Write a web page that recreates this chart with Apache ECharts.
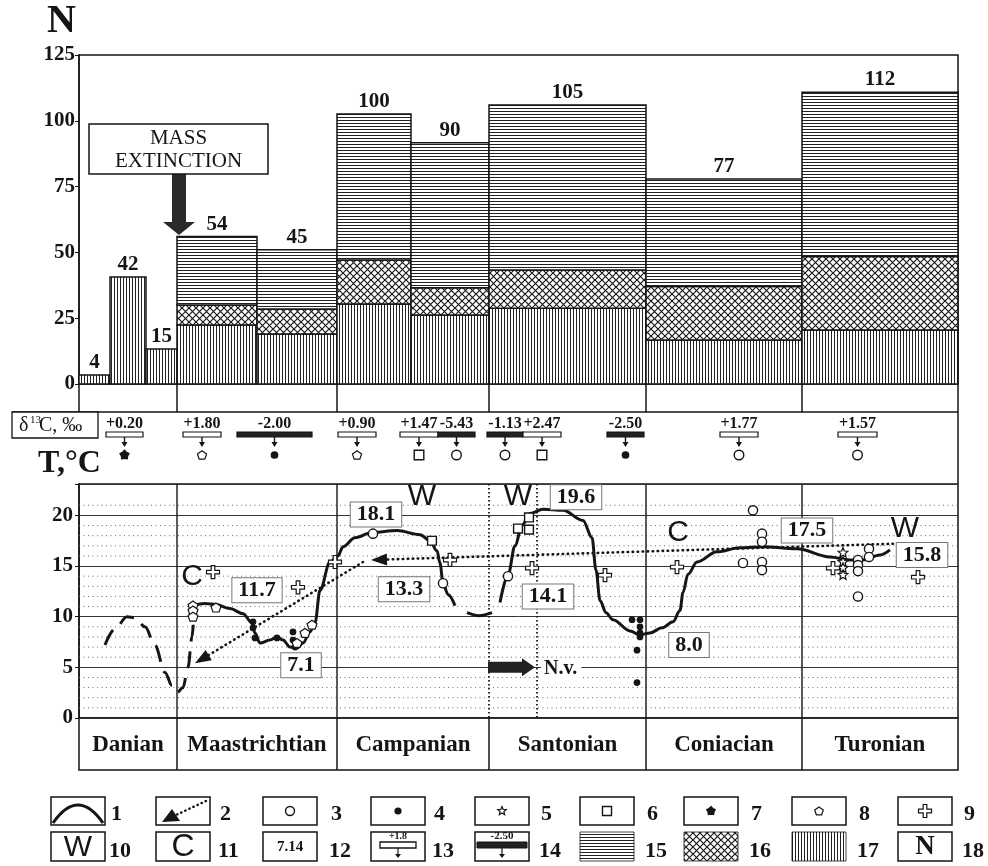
<!DOCTYPE html>
<html><head><meta charset="utf-8">
<script src="https://cdn.jsdelivr.net/npm/echarts@6/dist/echarts.min.js"></script>
<style>html,body{margin:0;padding:0;background:#fff}#c{width:988px;height:866px}</style>
</head><body><div id="c"></div>
<script>
// ================= DATA =================
// relative age scale (0 = top of Danian column, 879 = base of Turonian column)
const stages = ['Danian','Maastrichtian','Campanian','Santonian','Coniacian','Turonian'];
const stageBounds = [0, 98, 258, 410, 567, 723, 879];

// Diversity (N) – variable width stacked bars
const barStart = [0, 31, 67, 98, 178, 258, 332, 410, 567, 723];
const barEnd   = [31, 67, 98, 178, 258, 332, 410, 567, 723, 879];
const barLabel = ['4','42','15','54','45','100','90','105','77','112'];
const nVertical   = [3.4, 40.7, 13.3, 22.4, 19.0, 30.4, 26.2, 28.8, 16.7, 20.5]; // legend 17
const nCrossHatch = [0, 0, 0, 7.6, 9.5, 16.7, 10.4, 14.5, 20.3, 27.9];          // legend 16
const nHorizontal = [0, 0, 0, 26.0, 22.5, 55.5, 55.1, 62.7, 40.9, 62.4];        // legend 15
const extinctionBoxX = [10, 189];
const extinctionBoxN = [79.8, 98.8];
const extinctionTip = [100, 56.6];

// δ13C values
const d13cText  = ['+0.20','+1.80','-2.00','+0.90','+1.47','-5.43','-1.13','+2.47','-2.50','+1.77','+1.57'];
const d13cStart = [27, 104, 158, 259, 321, 359, 408, 444, 528, 641, 759];
const d13cEnd   = [64, 142, 233, 297, 359, 396, 444, 482, 565, 679, 798];
const d13cSymbol = ['flower','pentagon','dot','pentagon','square','circle','circle','square','dot','circle','circle'];

// Temperature curves (T, °C)
const danianX = [26, 36, 48, 56, 66, 76, 86, 93, 98, 104, 109, 113, 115];
const danianT = [7.2, 8.8, 10.0, 9.9, 9.0, 7.2, 4.5, 3.2, 2.5, 3.0, 5.0, 8.0, 10.5];
const mainX = [114,126,137,151,164,173,176,181,191,198,204,211,218,224,231,236,241,251,259,264,276,293,318,341,351,358,361,364,369,376];
const mainT = [11.1,11.3,11.2,10.8,10.3,9.4,8.4,7.4,7.7,8.0,7.7,7.0,6.9,7.4,8.5,9.4,12.6,15.4,16.0,16.9,17.8,18.3,18.5,18.1,17.5,16.5,15.3,13.3,12.2,11.1];
const gapX = [388, 400, 413];
const gapT = [10.4, 10.1, 10.4];
const lateX = [421,429,436,443,451,464,484,504,513,517,521,527,534,551,561,571,583,594,601,604,609,618,638,661,684,718,751,771,784,801,811];
const lateT = [11.4,14.1,17.0,19.0,20.2,20.6,20.5,19.5,17.8,14.6,11.6,10.4,9.7,8.6,8.2,8.4,8.9,9.5,10.6,12.4,14.2,15.4,16.4,16.8,16.9,16.7,15.9,15.6,15.6,16.1,16.6];

// point data by symbol
const pentX = [114,114,114,137,218,226,233];
const pentT = [11.1,10.6,10.0,10.9,7.4,8.4,9.2];
const dotX = [174,174,176,198,214,214,216,553,561,561,561,561,558,558];
const dotT = [9.5,8.9,7.9,7.9,8.5,7.7,7.0,9.7,9.7,9.0,8.4,8.0,6.7,3.5];
const circX = [294,364,429,674,683,683,664,683,683,779,779,779,790,790,779];
const circT = [18.2,13.3,14.0,20.5,18.2,17.4,15.3,15.4,14.6,15.6,15.1,14.5,16.7,15.9,12.0];
const sqX = [353,439,450,450];
const sqT = [17.5,18.7,19.8,18.6];
const starX = [764,764,764,764];
const starT = [16.3,15.4,14.8,14.1];
const crossX = [134,219,256,371,453,526,598,754,839];
const crossT = [14.4,12.9,15.4,15.6,14.8,14.1,14.9,14.8,13.9];

// labels
const boxLabelText = ['11.7','7.1','18.1','13.3','19.6','14.1','8.0','17.5','15.8'];
const boxLabelX = [178,222,297,325,497,469,610,728,843];
const boxLabelT = [12.6,5.2,20.1,12.7,21.8,12.0,7.2,18.5,16.1];
const letterText = ['C','W','W','C','W'];
const letterX = [113,343,439,599,826];
const letterT = [13.9,21.8,21.8,18.3,18.7];

// dotted arrows (legend 2)
const arrowFromX = [814, 284];
const arrowFromT = [17.2, 15.4];
const arrowToX = [292, 116];
const arrowToT = [15.6, 5.4];
// N.v. arrow
const nvFromX = 409, nvToX = 456, nvT = 5;

// grid
const minorT = [1,2,3,4,6,7,8,9,11,12,13,14,16,17,18,19,21];
const vLineX = [98, 258, 410, 458, 567, 723];
const vLineDotted = [false, false, true, true, false, false];

// ================= RENDER =================
const SERIF = '"Liberation Serif", "Times New Roman", serif';
const SANS = '"Liberation Sans", Arial, sans-serif';
const INK = '#151515';

function makePattern(kind){
  const c = document.createElement('canvas');
  const ctx = c.getContext('2d');
  if (kind === 'h') { c.width = 6; c.height = 3; ctx.fillStyle = '#fff'; ctx.fillRect(0,0,6,3); ctx.fillStyle = '#222'; ctx.fillRect(0,0,6,1); }
  else if (kind === 'v') { c.width = 3; c.height = 6; ctx.fillStyle = '#fff'; ctx.fillRect(0,0,3,6); ctx.fillStyle = '#222'; ctx.fillRect(0,0,1,6); }
  else { c.width = 7; c.height = 7; ctx.fillStyle = '#fff'; ctx.fillRect(0,0,7,7); ctx.strokeStyle = '#1a1a1a'; ctx.lineWidth = 1.2;
    ctx.beginPath(); ctx.moveTo(-1,-1); ctx.lineTo(8,8); ctx.moveTo(8,-1); ctx.lineTo(-1,8); ctx.stroke(); }
  return { image: c, repeat: 'repeat' };
}
const PAT_H = makePattern('h'), PAT_V = makePattern('v'), PAT_X = makePattern('x');

function shapePts(kind){
  const pts = [];
  if (kind === 'pentagon') { for (let k=0;k<5;k++){ const a=(-90+72*k)*Math.PI/180; pts.push([Math.cos(a),Math.sin(a)*0.95+0.08]); } }
  else if (kind === 'star' || kind === 'flower') {
    const rin = kind === 'star' ? 0.45 : 0.7;
    for (let k=0;k<10;k++){ const a=(-90+36*k)*Math.PI/180; const r = k%2 ? rin : 1; pts.push([Math.cos(a)*r, Math.sin(a)*r]); }
  } else if (kind === 'cross') {
    const t = 0.28;
    return [[-t,-1],[t,-1],[t,-t],[1,-t],[1,t],[t,t],[t,1],[-t,1],[-t,t],[-1,t],[-1,-t],[-t,-t]];
  }
  return pts;
}
function symEl(kind, cx, cy, s){
  switch(kind){
    case 'circle': return {type:'circle', shape:{cx,cy,r:s}, style:{fill:'#fff',stroke:INK,lineWidth:1.4}};
    case 'dot': return {type:'circle', shape:{cx,cy,r:s*0.8}, style:{fill:INK}};
    case 'square': return {type:'rect', shape:{x:cx-s,y:cy-s,width:2*s,height:2*s}, style:{fill:'#fff',stroke:INK,lineWidth:1.4}};
    default: {
      const pts = shapePts(kind).map(([u,v]) => [cx+u*s, cy+v*s]);
      return {type:'polygon', shape:{points:pts}, style:{fill: kind==='flower' ? INK : '#fff', stroke:INK, lineWidth:1.2}};
    }
  }
}

const zip = (xs, ys) => xs.map((x,i) => [x, ys[i]]);

function pointSeries(xs, ts, kind, s){
  return {
    type:'custom', xAxisIndex:2, yAxisIndex:2, z:6, data: zip(xs, ts),
    renderItem: (params, api) => { const p = api.coord([api.value(0), api.value(1)]); return symEl(kind, p[0], p[1], s); }
  };
}
function curveSeries(xs, ts, dash){
  return {
    type:'line', xAxisIndex:2, yAxisIndex:2, z:4, data: zip(xs, ts), showSymbol:false, symbol:'none',
    smooth:0.35, smoothMonotone:'x',
    lineStyle:{color:INK, width:3, type: dash ? [17,10] : 'solid', cap:'butt'}
  };
}

const option = {
  animation:false,
  backgroundColor:'#fff',
  grid:[
    {left:79, top:55, width:879, height:329, show:true, borderColor:INK, borderWidth:1.5, backgroundColor:'transparent'},
    {left:79, top:384, width:879, height:100, show:false},
    {left:79, top:484, width:879, height:234, show:true, borderColor:INK, borderWidth:1.5, backgroundColor:'transparent'},
    {left:79, top:718, width:879, height:52, show:true, borderColor:INK, borderWidth:1.5, backgroundColor:'transparent'}
  ],
  xAxis:[0,1,2,3].map(i => ({type:'value', gridIndex:i, min:0, max:879, show:false})),
  yAxis:[
    {type:'value', gridIndex:0, min:0, max:125, interval:25,
      axisLine:{show:true, lineStyle:{color:INK, width:1.5}}, axisTick:{show:true, length:4, lineStyle:{color:INK}},
      splitLine:{show:false}, axisLabel:{color:INK, fontFamily:SERIF, fontWeight:'bold', fontSize:21, margin:4}},
    {type:'value', gridIndex:1, min:0, max:1, show:false},
    {type:'value', gridIndex:2, min:0, max:23.1, interval:5,
      axisLine:{show:true, lineStyle:{color:INK, width:1.5}}, axisTick:{show:true, length:4, lineStyle:{color:INK}},
      splitLine:{show:true, lineStyle:{color:'#333', width:1}},
      axisLabel:{color:INK, fontFamily:SERIF, fontWeight:'bold', fontSize:21, margin:6, formatter: v => v > 22 ? '' : String(v)}},
    {type:'value', gridIndex:3, min:0, max:1, show:false}
  ],
  series:[
    // ---- diversity bars ----
    {
      type:'custom', xAxisIndex:0, yAxisIndex:0, z:3,
      data: barStart.map((s,i) => [s, barEnd[i], nVertical[i], nCrossHatch[i], nHorizontal[i]]),
      renderItem: (params, api) => {
        const i = params.dataIndex;
        const x0 = api.value(0), x1 = api.value(1), a = api.value(2), b = api.value(3), c = api.value(4);
        const segs = [[0,a,PAT_V],[a,a+b,PAT_X],[a+b,a+b+c,PAT_H]];
        const children = [];
        segs.forEach(([lo,hi,p]) => {
          if (hi - lo <= 0) return;
          const p0 = api.coord([x0, hi]), p1 = api.coord([x1, lo]);
          children.push({type:'rect', shape:{x:p0[0], y:p0[1], width:p1[0]-p0[0], height:p1[1]-p0[1]},
            style:{fill:p, stroke:INK, lineWidth:1.5}});
        });
        const t = api.coord([(x0+x1)/2, a+b+c]);
        children.push({type:'text', x:t[0], y:t[1]-2, style:{text:barLabel[i], font:'bold 21px '+SERIF, fill:INK, align:'center', verticalAlign:'bottom'}});
        return {type:'group', children};
      }
    },
    // ---- mass extinction annotation ----
    {
      type:'custom', xAxisIndex:0, yAxisIndex:0, z:8, data:[[0]],
      renderItem: (params, api) => {
        const b0 = api.coord([extinctionBoxX[0], extinctionBoxN[1]]), b1 = api.coord([extinctionBoxX[1], extinctionBoxN[0]]);
        const tip = api.coord(extinctionTip);
        const xc = tip[0], yb = b1[1], ty = tip[1];
        return {type:'group', children:[
          {type:'polygon', shape:{points:[[xc-7,yb],[xc+7,yb],[xc+7,ty-13],[xc+16,ty-13],[xc,ty],[xc-16,ty-13],[xc-7,ty-13]]}, style:{fill:'#2a2a2a'}},
          {type:'rect', shape:{x:b0[0], y:b0[1], width:b1[0]-b0[0], height:b1[1]-b0[1]}, style:{fill:'#fff', stroke:INK, lineWidth:1.5}},
          {type:'text', x:(b0[0]+b1[0])/2, y:(b0[1]+b1[1])/2+1, style:{text:'MASS\nEXTINCTION', font:'21px '+SERIF, lineHeight:23, fill:INK, align:'center', verticalAlign:'middle'}}
        ]};
      }
    },
    // ---- δ13C strip ----
    {
      type:'custom', xAxisIndex:1, yAxisIndex:1, z:5, data:[[0,0]],
      renderItem: (params, api) => {
        const cs = params.coordSys;
        const top = cs.y, yBase = top + 28, ch = [];
        stageBounds.forEach((b, i) => {
          const x = api.coord([b, 0])[0];
          ch.push({type:'line', shape:{x1:x, y1:top, x2:x, y2: i === stageBounds.length-1 ? cs.y+cs.height : yBase}, style:{stroke:INK, lineWidth:1.5}});
        });
        ch.push({type:'line', shape:{x1:cs.x-67, y1:yBase, x2:cs.x+cs.width, y2:yBase}, style:{stroke:INK, lineWidth:1.5}});
        ch.push({type:'rect', shape:{x:cs.x-67, y:yBase, width:86, height:26}, style:{fill:'#fff', stroke:INK, lineWidth:1.3}});
        ch.push({type:'text', x:cs.x-60, y:yBase+14, style:{text:'δ', font:'20px '+SERIF, fill:INK, verticalAlign:'middle'}});
        ch.push({type:'text', x:cs.x-49, y:yBase+8, style:{text:'13', font:'11px '+SERIF, fill:INK, verticalAlign:'middle'}});
        ch.push({type:'text', x:cs.x-40, y:yBase+14, style:{text:'C, ‰', font:'20px '+SERIF, fill:INK, verticalAlign:'middle'}});
        d13cText.forEach((txt, i) => {
          const x0 = api.coord([d13cStart[i], 0])[0], x1 = api.coord([d13cEnd[i], 0])[0];
          const xc = (x0 + x1) / 2, neg = txt.charAt(0) === '-';
          ch.push({type:'text', x:xc, y:yBase+20, style:{text:txt, font:'bold 16px '+SERIF, fill:INK, align:'center', verticalAlign:'bottom'}});
          ch.push({type:'rect', shape:{x:x0, y:yBase+20, width:x1-x0, height:5}, style:{fill: neg ? '#222' : '#fff', stroke:INK, lineWidth:1.2}});
          ch.push({type:'line', shape:{x1:xc, y1:yBase+25, x2:xc, y2:yBase+32}, style:{stroke:INK, lineWidth:1.4}});
          ch.push({type:'polygon', shape:{points:[[xc-3,yBase+30],[xc+3,yBase+30],[xc,yBase+35]]}, style:{fill:INK}});
          ch.push(symEl(d13cSymbol[i], xc, yBase+43, 4.8));
        });
        return {type:'group', children:ch};
      }
    },
    // ---- minor dotted gridlines ----
    {
      type:'custom', xAxisIndex:2, yAxisIndex:2, z:1, data: minorT.map(t => [0, t]),
      renderItem: (params, api) => {
        const cs = params.coordSys, y = api.coord([0, api.value(1)])[1];
        return {type:'line', shape:{x1:cs.x, y1:y, x2:cs.x+cs.width, y2:y}, style:{stroke:'#6a6a6a', lineWidth:1, lineDash:[1,3.5]}};
      }
    },
    // ---- vertical stage lines in T panel ----
    {
      type:'custom', xAxisIndex:2, yAxisIndex:2, z:2, data: vLineX.map((x,i) => [x, 0, vLineDotted[i] ? 1 : 0]),
      renderItem: (params, api) => {
        const cs = params.coordSys, x = api.coord([api.value(0), 0])[0], dotted = api.value(2) === 1;
        return {type:'line', shape:{x1:x, y1:cs.y, x2:x, y2:cs.y+cs.height},
          style:{stroke:INK, lineWidth: dotted ? 1.8 : 1.4, lineDash: dotted ? [1.5,2.5] : null}};
      }
    },
    // ---- curves ----
    curveSeries(danianX, danianT, true),
    curveSeries(mainX, mainT, false),
    curveSeries(gapX, gapT, false),
    curveSeries(lateX, lateT, false),
    // ---- dotted arrows ----
    {
      type:'custom', xAxisIndex:2, yAxisIndex:2, z:5, data: arrowFromX.map((x,i) => [x, arrowFromT[i], arrowToX[i], arrowToT[i]]),
      renderItem: (params, api) => {
        const p0 = api.coord([api.value(0), api.value(1)]), p1 = api.coord([api.value(2), api.value(3)]);
        const dx = p1[0]-p0[0], dy = p1[1]-p0[1], L = Math.hypot(dx,dy), ux = dx/L, uy = dy/L;
        const hl = 16, hw = 6, bx = p1[0]-ux*hl, by = p1[1]-uy*hl;
        return {type:'group', children:[
          {type:'line', shape:{x1:p0[0], y1:p0[1], x2:bx, y2:by}, style:{stroke:INK, lineWidth:2.6, lineCap:'round', lineDash:[0.5,4.5]}},
          {type:'polygon', shape:{points:[p1, [bx-uy*hw, by+ux*hw], [bx+uy*hw, by-ux*hw]]}, style:{fill:INK}}
        ]};
      }
    },
    // ---- N.v. arrow ----
    {
      type:'custom', xAxisIndex:2, yAxisIndex:2, z:7, data:[[nvFromX, nvT, nvToX]],
      renderItem: (params, api) => {
        const p0 = api.coord([api.value(0), api.value(1)]), p1 = api.coord([api.value(2), api.value(1)]);
        const y = p0[1], hx = p1[0]-13;
        return {type:'group', children:[
          {type:'polygon', shape:{points:[[p0[0],y-5.5],[hx,y-5.5],[hx,y-9],[p1[0],y],[hx,y+9],[hx,y+5.5],[p0[0],y+5.5]]}, style:{fill:'#222'}},
          {type:'text', x:p1[0]+6, y:y+1, style:{text:'N.v.', font:'bold 20px '+SERIF, fill:INK, verticalAlign:'middle', backgroundColor:'#fff', padding:[0,4,0,3]}}
        ]};
      }
    },
    // ---- points ----
    pointSeries(dotX, dotT, 'dot', 4.2),
    pointSeries(pentX, pentT, 'pentagon', 5.2),
    pointSeries(circX, circT, 'circle', 4.6),
    pointSeries(sqX, sqT, 'square', 4.4),
    pointSeries(starX, starT, 'star', 5.2),
    pointSeries(crossX, crossT, 'cross', 6.5),
    // ---- boxed temperature labels ----
    {
      type:'custom', xAxisIndex:2, yAxisIndex:2, z:9, data: boxLabelX.map((x,i) => [x, boxLabelT[i]]),
      renderItem: (params, api) => {
        const p = api.coord([api.value(0), api.value(1)]);
        return {type:'text', x:p[0], y:p[1], style:{text:boxLabelText[params.dataIndex], font:'bold 22px '+SERIF, fill:INK,
          align:'center', verticalAlign:'middle', backgroundColor:'#fff', borderColor:'#777', borderWidth:1, padding:[2,6,0,6]}};
      }
    },
    // ---- W / C letters ----
    {
      type:'custom', xAxisIndex:2, yAxisIndex:2, z:9, data: letterX.map((x,i) => [x, letterT[i]]),
      renderItem: (params, api) => {
        const p = api.coord([api.value(0), api.value(1)]);
        return {type:'text', x:p[0], y:p[1], style:{text:letterText[params.dataIndex], font:'30px '+SANS, fill:INK, align:'center', verticalAlign:'middle'}};
      }
    },
    // ---- stage names row ----
    {
      type:'custom', xAxisIndex:3, yAxisIndex:3, z:5, data: stages.map((s,i) => [stageBounds[i], stageBounds[i+1]]),
      renderItem: (params, api) => {
        const cs = params.coordSys, x0 = api.coord([api.value(0), 0])[0], x1 = api.coord([api.value(1), 0])[0];
        const ch = [{type:'text', x:(x0+x1)/2, y:cs.y+cs.height/2+1, style:{text:stages[params.dataIndex], font:'bold 23px '+SERIF, fill:INK, align:'center', verticalAlign:'middle'}}];
        if (params.dataIndex > 0) ch.push({type:'line', shape:{x1:x0, y1:cs.y, x2:x0, y2:cs.y+cs.height}, style:{stroke:INK, lineWidth:1.5}});
        return {type:'group', children:ch};
      }
    }
  ],
  graphic: []
};

// ---- titles and legend (static decoration) ----
const G = option.graphic;
G.push({type:'text', left:47, top:2, style:{text:'N', font:'bold 40px '+SERIF, fill:INK}});
G.push({type:'text', left:38, top:448, style:{text:'T,°C', font:'bold 32px '+SERIF, fill:INK}});

const cols = [51,156,263,371,475,580,684,792,898];
const numOff = [6,10,14,9,12,13,13,13,12];
const r1 = 797, r2 = 832, bw = 54, h1 = 28, h2 = 29;
cols.forEach((x, i) => {
  G.push({type:'text', left:x+bw+numOff[i], top:r1+6, style:{text:String(i+1), font:'bold 22px '+SERIF, fill:INK}});
  G.push({type:'text', left:x+bw+numOff[i]-2, top:r2+8, style:{text:String(i+10), font:'bold 22px '+SERIF, fill:INK}});
  const pf = i===5 ? PAT_H : i===6 ? PAT_X : i===7 ? PAT_V : '#fff';
  G.push({type:'rect', shape:{x:x, y:r1, width:bw, height:h1}, style:{fill:'#fff', stroke:INK, lineWidth:1.5}});
  G.push({type:'rect', shape:{x:x, y:r2, width:bw, height:h2}, style:{fill:pf, stroke:INK, lineWidth: i>=5 && i<=7 ? 0.8 : 1.5}});
});
const cy1 = r1 + h1/2, cy2 = r2 + h2/2;
// 1 curve
G.push({type:'bezierCurve', shape:{x1:cols[0]+2, y1:r1+h1-2, cpx1:cols[0]+bw/2, cpy1:r1-10, x2:cols[0]+bw-2, y2:r1+h1-2}, style:{stroke:INK, lineWidth:3, fill:null}});
// 2 dotted arrow
G.push({type:'line', shape:{x1:cols[1]+50, y1:r1+4, x2:cols[1]+20, y2:r1+18}, style:{stroke:INK, lineWidth:2.4, lineCap:'round', lineDash:[0.5,4]}});
G.push({type:'polygon', shape:{points:[[cols[1]+6,r1+25],[cols[1]+16,r1+12],[cols[1]+24,r1+24]]}, style:{fill:INK}});
// symbols 3-9
const legSyms = ['circle','dot','star','square','flower','pentagon','cross'];
legSyms.forEach((k, j) => {
  G.push(symEl(k, cols[j+2]+bw/2, cy1, k==='cross' ? 6.5 : 4.5));
});
// 10, 11, 12
G.push({type:'text', x:cols[0]+bw/2, y:cy2+1, style:{text:'W', font:'30px '+SANS, fill:INK, align:'center', verticalAlign:'middle'}});
G.push({type:'text', x:cols[1]+bw/2, y:cy2+1, style:{text:'C', font:'32px '+SANS, fill:INK, align:'center', verticalAlign:'middle'}});
G.push({type:'text', x:cols[2]+bw/2, y:cy2+1, style:{text:'7.14', font:'bold 15px '+SERIF, fill:INK, align:'center', verticalAlign:'middle'}});
// 13
G.push({type:'text', x:cols[3]+bw/2, y:r2+9, style:{text:'+1.8', font:'bold 10px '+SERIF, fill:INK, align:'center', verticalAlign:'bottom'}});
G.push({type:'rect', shape:{x:cols[3]+9, y:r2+10, width:bw-18, height:6}, style:{fill:'#fff', stroke:INK, lineWidth:1.3}});
G.push({type:'line', shape:{x1:cols[3]+bw/2, y1:r2+16, x2:cols[3]+bw/2, y2:r2+24}, style:{stroke:INK, lineWidth:1.2}});
G.push({type:'polygon', shape:{points:[[cols[3]+bw/2-3,r2+22],[cols[3]+bw/2+3,r2+22],[cols[3]+bw/2,r2+26]]}, style:{fill:INK}});
// 14
G.push({type:'text', x:cols[4]+bw/2, y:r2+10, style:{text:'-2.50', font:'bold 11px '+SERIF, fill:INK, align:'center', verticalAlign:'bottom'}});
G.push({type:'rect', shape:{x:cols[4]+2, y:r2+10, width:bw-4, height:6}, style:{fill:'#222', stroke:INK, lineWidth:1}});
G.push({type:'line', shape:{x1:cols[4]+bw/2, y1:r2+16, x2:cols[4]+bw/2, y2:r2+24}, style:{stroke:INK, lineWidth:1.2}});
G.push({type:'polygon', shape:{points:[[cols[4]+bw/2-3,r2+22],[cols[4]+bw/2+3,r2+22],[cols[4]+bw/2,r2+26]]}, style:{fill:INK}});
// 18
G.push({type:'text', x:cols[8]+bw/2, y:cy2+1, style:{text:'N', font:'bold 27px '+SERIF, fill:INK, align:'center', verticalAlign:'middle'}});

const chart = echarts.init(document.getElementById('c'), null, {renderer:'canvas', width:988, height:866});
chart.setOption(option);
</script>
</body></html>
